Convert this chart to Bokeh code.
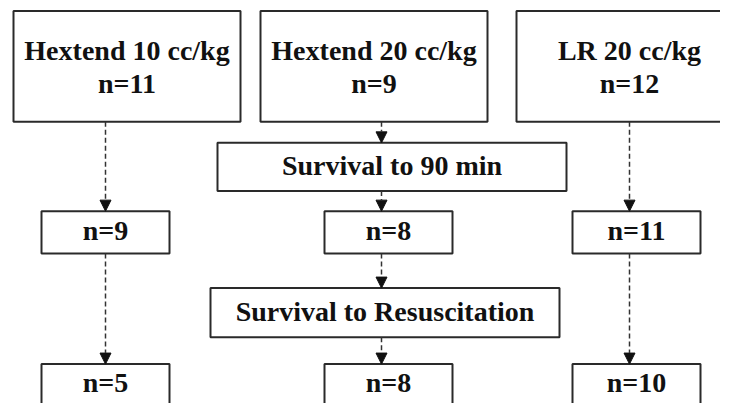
from bokeh.plotting import figure
from bokeh.models import ColumnDataSource, Range1d, Arrow, NormalHead
from bokeh.core.properties import value
from bokeh.embed import file_html
from bokeh.resources import INLINE

# ---- data ----
groups = ["Hextend 10 cc/kg", "Hextend 20 cc/kg", "LR 20 cc/kg"]
n_start = [11, 9, 12]
n_90min = [9, 8, 11]
n_resus = [5, 8, 10]
stage_labels = ["Survival to 90 min", "Survival to Resuscitation"]

# ---- layout (pixel coordinates of the reference picture) ----
col_box_left = [13, 260, 516]
col_box_right = [240, 487, 742]
col_arrow_x = [105, 381, 629]
small_left = [41, 324, 572]
small_right = [169, 452, 700]
top_box_y = (11, 126)
mid_box_y = (219, 263)
bot_box_y = (378, 440)
stage_left = [217, 210]
stage_right = [566, 559]
stage_y = [(148, 198), (299, 350)]
TEXT_SHIFT = 10.5  # compensates the renderer's baseline placement

FONT = value("Liberation Serif")
LINE = "#2a2a2a"

p = figure(width=720, height=403, output_backend="svg", toolbar_location=None,
           x_range=Range1d(0, 720), y_range=Range1d(419, 0), min_border=0)
p.axis.visible = False
p.grid.visible = False
p.outline_line_color = None
p.background_fill_color = "white"
p.border_fill_color = "white"

# boxes
L, R, T, B = [], [], [], []
for i in range(3):
    L.append(col_box_left[i]); R.append(col_box_right[i]); T.append(top_box_y[0]); B.append(top_box_y[1])
    L.append(small_left[i]); R.append(small_right[i]); T.append(mid_box_y[0]); B.append(mid_box_y[1])
    L.append(small_left[i]); R.append(small_right[i]); T.append(bot_box_y[0]); B.append(bot_box_y[1])
for j in range(2):
    L.append(stage_left[j]); R.append(stage_right[j]); T.append(stage_y[j][0]); B.append(stage_y[j][1])
p.quad(left=L, right=R, top=T, bottom=B, fill_color="white", line_color=LINE, line_width=2)

# texts
tx, ty, tt = [], [], []
for i in range(3):
    cx = (col_box_left[i] + col_box_right[i]) / 2
    tx += [cx, cx]
    ty += [62, 97]
    tt += [groups[i], f"n={n_start[i]}"]
    sx = (small_left[i] + small_right[i]) / 2
    tx += [sx, sx]
    ty += [250, 408]
    tt += [f"n={n_90min[i]}", f"n={n_resus[i]}"]
for j in range(2):
    tx.append((stage_left[j] + stage_right[j]) / 2)
    ty.append((stage_y[j][0] + stage_y[j][1]) / 2 + 9)
    tt.append(stage_labels[j])
ty = [v - TEXT_SHIFT for v in ty]
p.text(x=tx, y=ty, text=tt, text_font=FONT, text_font_style="bold",
       text_font_size="28px", text_align="center", text_baseline="alphabetic",
       text_color="#111111")

# arrows
xs, ys, xe, ye = [], [], [], []
for i in [0, 2]:
    x = col_arrow_x[i]
    xs += [x, x]; ys += [top_box_y[1], mid_box_y[1]]
    xe += [x, x]; ye += [mid_box_y[0], bot_box_y[0]]
x = col_arrow_x[1]
seg = [(top_box_y[1], stage_y[0][0]), (stage_y[0][1], mid_box_y[0]),
       (mid_box_y[1], stage_y[1][0]), (stage_y[1][1], bot_box_y[0])]
for a, b in seg:
    xs.append(x); ys.append(a); xe.append(x); ye.append(b)
asrc = ColumnDataSource(dict(xs=xs, ys=ys, xe=xe, ye=ye))
p.add_layout(Arrow(end=NormalHead(size=11, fill_color="#111111", line_color="#111111", line_width=1),
                   x_start="xs", y_start="ys", x_end="xe", y_end="ye", source=asrc,
                   line_color="#333333", line_width=1.5, line_dash="5 3"))

open("out.html", "w").write(file_html(p, INLINE))
